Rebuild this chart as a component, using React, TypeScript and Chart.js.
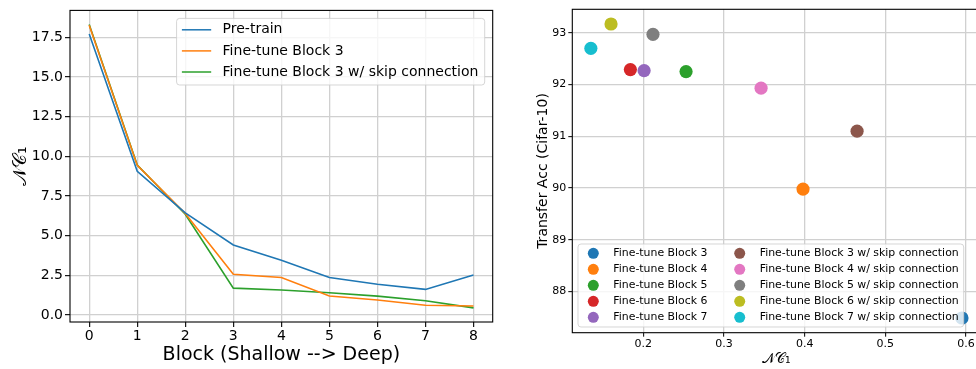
import React, { useEffect, useRef } from 'react';
import { Chart, registerables } from 'chart.js';

Chart.register(...registerables);

// ---------- Left panel data ----------
const blocks = [0, 1, 2, 3, 4, 5, 6, 7, 8];
const preTrain = [17.7, 9.06, 6.44, 4.42, 3.45, 2.37, 1.95, 1.62, 2.53];
const fineTune3 = [18.25, 9.43, 6.4, 2.57, 2.37, 1.2, 0.95, 0.62, 0.58];
const fineTune3Skip = [18.3, 9.45, 6.35, 1.7, 1.58, 1.41, 1.2, 0.91, 0.46];
const leftSeriesLabels = ['Pre-train', 'Fine-tune Block 3', 'Fine-tune Block 3 w/ skip connection'];
const leftXTicks = [0, 1, 2, 3, 4, 5, 6, 7, 8];
const leftYTicks = [0, 2.5, 5, 7.5, 10, 12.5, 15, 17.5];

// ---------- Right panel data ----------
const scatterLabels = [
  'Fine-tune Block 3',
  'Fine-tune Block 4',
  'Fine-tune Block 5',
  'Fine-tune Block 6',
  'Fine-tune Block 7',
  'Fine-tune Block 3 w/ skip connection',
  'Fine-tune Block 4 w/ skip connection',
  'Fine-tune Block 5 w/ skip connection',
  'Fine-tune Block 6 w/ skip connection',
  'Fine-tune Block 7 w/ skip connection',
];
const scatterNC1 = [0.595, 0.398, 0.253, 0.184, 0.201, 0.465, 0.346, 0.212, 0.16, 0.135];
const scatterAcc = [87.49, 89.98, 92.25, 92.29, 92.27, 91.1, 91.93, 92.97, 93.17, 92.7];
const rightXTicks = [0.2, 0.3, 0.4, 0.5, 0.6];
const rightYTicks = [88, 89, 90, 91, 92, 93];

const tab10 = ['#1f77b4', '#ff7f0e', '#2ca02c', '#d62728', '#9467bd', '#8c564b', '#e377c2', '#7f7f7f', '#bcbd22', '#17becf'];

const FONT = '"DejaVu Sans", "Liberation Sans", sans-serif';
const NC1 = '\u{1D4A9}\u{1D49E}\u2081';
const GRID = '#d0d0d0';

function withMargin(vals: number[], frac = 0.05): [number, number] {
  const lo = Math.min(...vals);
  const hi = Math.max(...vals);
  const m = (hi - lo) * frac;
  return [lo - m, hi + m];
}

function roundRect(ctx: CanvasRenderingContext2D, x: number, y: number, w: number, h: number, r: number) {
  ctx.beginPath();
  ctx.moveTo(x + r, y);
  ctx.lineTo(x + w - r, y);
  ctx.arcTo(x + w, y, x + w, y + r, r);
  ctx.lineTo(x + w, y + h - r);
  ctx.arcTo(x + w, y + h, x + w - r, y + h, r);
  ctx.lineTo(x + r, y + h);
  ctx.arcTo(x, y + h, x, y + h - r, r);
  ctx.lineTo(x, y + r);
  ctx.arcTo(x, y, x + r, y, r);
  ctx.closePath();
}

const framePlugin = {
  id: 'frame',
  afterDraw(chart: any) {
    const { ctx, chartArea } = chart;
    ctx.save();
    ctx.strokeStyle = '#000';
    ctx.lineWidth = 1.1;
    ctx.strokeRect(chartArea.left, chartArea.top, chartArea.right - chartArea.left, chartArea.bottom - chartArea.top);
    ctx.restore();
    const leg = chart.options.plugins.customLegend;
    if (leg && leg.kind === 'line') drawLineLegend(chart);
    if (leg && leg.kind === 'scatter') drawScatterLegend(chart);
  },
};

function drawLineLegend(chart: any) {
  const { ctx, chartArea } = chart;
  const ds = chart.data.datasets;
  ctx.save();
  ctx.font = `14px ${FONT}`;
  const maxW = Math.max(...ds.map((d: any) => ctx.measureText(d.label).width));
  const padL = 5.3, handle = 29.3, gap = 11.4, padR = 6.3;
  const w = padL + handle + gap + maxW + padR;
  const rowH = 21.1;
  const h = 11.4 + rowH * (ds.length - 1) + 13;
  const x = chartArea.right - 8 - w;
  const y = chartArea.top + 8;
  roundRect(ctx, x, y, w, h, 3);
  ctx.fillStyle = 'rgba(255,255,255,0.8)';
  ctx.fill();
  ctx.strokeStyle = 'rgba(204,204,204,0.8)';
  ctx.lineWidth = 1;
  ctx.stroke();
  ds.forEach((d: any, i: number) => {
    const cy = y + 11.4 + rowH * i;
    ctx.strokeStyle = d.borderColor;
    ctx.lineWidth = 1.5;
    ctx.beginPath();
    ctx.moveTo(x + padL, cy);
    ctx.lineTo(x + padL + handle, cy);
    ctx.stroke();
    ctx.fillStyle = '#000';
    ctx.textBaseline = 'middle';
    ctx.textAlign = 'left';
    ctx.fillText(d.label, x + padL + handle + gap, cy);
  });
  ctx.restore();
}

function drawScatterLegend(chart: any) {
  const { ctx, chartArea } = chart;
  const ds = chart.data.datasets;
  ctx.save();
  ctx.font = `10.9px ${FONT}`;
  const rows = 5;
  const col1 = ds.slice(0, rows);
  const col2 = ds.slice(rows);
  const w1 = Math.max(...col1.map((d: any) => ctx.measureText(d.label).width));
  const w2 = Math.max(...col2.map((d: any) => ctx.measureText(d.label).width));
  const padL = 15.3, mk2txt = 20, colGap = 32.3, padR = 5;
  const w = padL + mk2txt + w1 + colGap + mk2txt + w2 + padR;
  const rowH = 16;
  const h = 9.3 + rowH * (rows - 1) + 9.7;
  const x = chartArea.left + 5.7;
  const y = chartArea.bottom - 5.7 - h;
  roundRect(ctx, x, y, w, h, 3);
  ctx.fillStyle = 'rgba(255,255,255,0.8)';
  ctx.fill();
  ctx.strokeStyle = 'rgba(204,204,204,0.8)';
  ctx.lineWidth = 1;
  ctx.stroke();
  const colX = [x + padL, x + padL + mk2txt + w1 + colGap];
  ds.forEach((d: any, i: number) => {
    const c = Math.floor(i / rows);
    const r = i % rows;
    const cx = colX[c];
    const cy = y + 9.3 + rowH * r;
    ctx.fillStyle = d.backgroundColor;
    ctx.beginPath();
    ctx.arc(cx, cy, 5.5, 0, Math.PI * 2);
    ctx.fill();
    ctx.fillStyle = '#000';
    ctx.textBaseline = 'middle';
    ctx.textAlign = 'left';
    ctx.fillText(d.label, cx + mk2txt, cy);
  });
  ctx.restore();
}

function LeftChart() {
  const ref = useRef<HTMLCanvasElement>(null);
  useEffect(() => {
    const series = [preTrain, fineTune3, fineTune3Skip];
    const [xMin, xMax] = withMargin(blocks);
    const [yMin, yMax] = withMargin([...preTrain, ...fineTune3, ...fineTune3Skip]);
    const chart = new Chart(ref.current!, {
      type: 'line',
      data: {
        datasets: series.map((s, i) => ({
          label: leftSeriesLabels[i],
          data: s.map((v, j) => ({ x: blocks[j], y: v })),
          borderColor: tab10[i],
          backgroundColor: tab10[i],
          borderWidth: 1.6,
          pointRadius: 0,
          tension: 0,
        })),
      },
      options: {
        responsive: false,
        animation: false,
        devicePixelRatio: 1,
        layout: { padding: { left: 0, right: 7.3, top: 7.3, bottom: 0 } },
        plugins: { legend: { display: false }, tooltip: { enabled: false }, customLegend: { kind: 'line' } } as any,
        scales: {
          x: {
            type: 'linear',
            min: xMin,
            max: xMax,
            afterBuildTicks: (s: any) => { s.ticks = leftXTicks.map((v) => ({ value: v })); },
            afterFit: (s: any) => { s.height = 47; },
            ticks: { color: '#000', font: { family: FONT, size: 14 }, padding: 1, autoSkip: false, maxRotation: 0, callback: (v: any) => String(v) },
            grid: { color: GRID, lineWidth: 1.3, tickColor: '#000', tickLength: 5, tickWidth: 1.1 },
            border: { display: false },
            title: { display: true, text: 'Block (Shallow --> Deep)', color: '#000', font: { family: FONT, size: 19 }, padding: { top: 0, bottom: 2.6 } },
          },
          y: {
            type: 'linear',
            min: yMin,
            max: yMax,
            afterBuildTicks: (s: any) => { s.ticks = leftYTicks.map((v) => ({ value: v })); },
            afterFit: (s: any) => { s.width = 70; },
            ticks: { color: '#000', font: { family: FONT, size: 14 }, padding: 2, autoSkip: false, callback: (v: any) => Number(v).toFixed(1) },
            grid: { color: GRID, lineWidth: 1.3, tickColor: '#000', tickLength: 5, tickWidth: 1.1 },
            border: { display: false },
            title: { display: true, text: NC1, color: '#000', font: { family: FONT, size: 19 }, padding: { top: 9.6, bottom: 0 } },
          },
        },
      },
      plugins: [framePlugin],
    } as any);
    return () => chart.destroy();
  }, []);
  return <canvas ref={ref} width={500} height={369} style={{ width: 500, height: 369, display: 'block' }} />;
}

function RightChart() {
  const ref = useRef<HTMLCanvasElement>(null);
  useEffect(() => {
    const [xMin, xMax] = withMargin(scatterNC1);
    const [yMin, yMax] = withMargin(scatterAcc);
    const chart = new Chart(ref.current!, {
      type: 'scatter',
      data: {
        datasets: scatterLabels.map((lab, i) => ({
          label: lab,
          data: [{ x: scatterNC1[i], y: scatterAcc[i] }],
          backgroundColor: tab10[i],
          borderColor: tab10[i],
          borderWidth: 0,
          pointRadius: 6.6,
        })),
      },
      options: {
        responsive: false,
        animation: false,
        devicePixelRatio: 1,
        layout: { padding: { left: 0, right: 19.5, top: 9.3, bottom: 0 } },
        plugins: { legend: { display: false }, tooltip: { enabled: false }, customLegend: { kind: 'scatter' } } as any,
        scales: {
          x: {
            type: 'linear',
            min: xMin,
            max: xMax,
            afterBuildTicks: (s: any) => { s.ticks = rightXTicks.map((v) => ({ value: v })); },
            afterFit: (s: any) => { s.height = 36.3; },
            ticks: { color: '#000', font: { family: FONT, size: 11 }, padding: 1, autoSkip: false, maxRotation: 0, callback: (v: any) => Number(v).toFixed(1) },
            grid: { color: GRID, lineWidth: 1.3, tickColor: '#000', tickLength: 4, tickWidth: 1 },
            border: { display: false },
            title: { display: true, text: NC1, color: '#000', font: { family: FONT, size: 14 }, padding: { top: 0, bottom: 1 } },
          },
          y: {
            type: 'linear',
            min: yMin,
            max: yMax,
            afterBuildTicks: (s: any) => { s.ticks = rightYTicks.map((v) => ({ value: v })); },
            afterFit: (s: any) => { s.width = 72.3; },
            ticks: { color: '#000', font: { family: FONT, size: 11 }, padding: 2, autoSkip: false, callback: (v: any) => String(v) },
            grid: { color: GRID, lineWidth: 1.3, tickColor: '#000', tickLength: 4, tickWidth: 1 },
            border: { display: false },
            title: { display: true, text: 'Transfer Acc (Cifar-10)', color: '#000', font: { family: FONT, size: 14 }, padding: { top: 34.9, bottom: 0 } },
          },
        },
      },
      plugins: [framePlugin],
    } as any);
    return () => chart.destroy();
  }, []);
  return <canvas ref={ref} width={500} height={369} style={{ width: 500, height: 369, display: 'block' }} />;
}

export default function App() {
  return (
    <div style={{ position: 'absolute', left: 0, top: 0, width: 976, height: 369, overflow: 'hidden', background: '#fff' }}>
      <div style={{ position: 'absolute', left: 0, top: 0, width: 500, height: 369 }}>
        <LeftChart />
      </div>
      <div style={{ position: 'absolute', left: 500, top: 0, width: 500, height: 369 }}>
        <RightChart />
      </div>
    </div>
  );
}
